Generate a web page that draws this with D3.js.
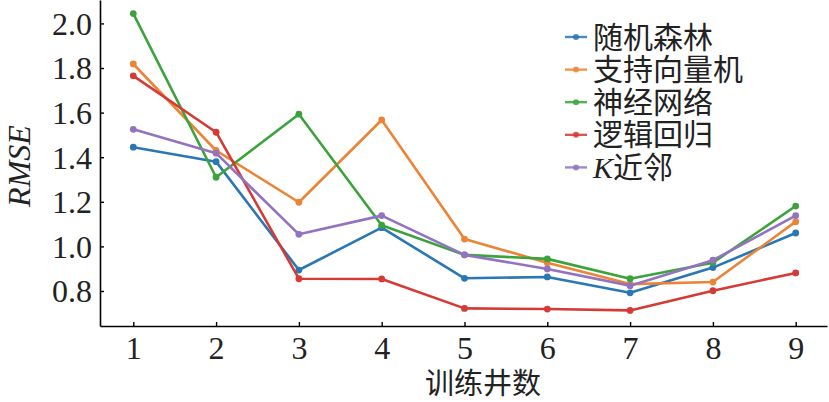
<!DOCTYPE html>
<html><head><meta charset="utf-8">
<script src="https://cdn.jsdelivr.net/npm/d3@7/dist/d3.min.js"></script>
<style>body{margin:0;background:#fff}svg{display:block}</style>
</head><body>
<script>
const wells = [1,2,3,4,5,6,7,8,9];
const seriesNames = ["随机森林","支持向量机","神经网络","逻辑回归","K近邻"];
const rf  = [1.445,1.380,0.894,1.084,0.857,0.863,0.792,0.905,1.060];
const svm = [1.818,1.430,1.198,1.567,1.033,0.927,0.831,0.840,1.111];
const nn  = [2.044,1.310,1.593,1.095,0.962,0.944,0.855,0.927,1.181];
const lr  = [1.765,1.512,0.855,0.854,0.722,0.719,0.713,0.801,0.881];
const knn = [1.525,1.418,1.054,1.138,0.962,0.899,0.824,0.938,1.138];
const yTicks = [0.8,1.0,1.2,1.4,1.6,1.8,2.0];
const colors = ["#2a77b4","#eb8535","#3ca33c","#d63a35","#9373bf"];
const allSeries = [rf,svm,nn,lr,knn];

const W=829,H=402;
const svg=d3.select("body").append("svg").attr("width",W).attr("height",H);
const x=d3.scaleLinear().domain([0.598,9.378]).range([100,827]);
const y=d3.scaleLinear().domain([0.643,2.105]).range([326,0]);

const serif='"Liberation Serif","DejaVu Serif",serif';
const cjk='"Noto Sans CJK SC",sans-serif';

// axes
const xAxis=svg.append("g").attr("transform","translate(0,326)")
  .call(d3.axisBottom(x).tickValues(wells).tickFormat(d3.format("d")).tickSizeInner(-4).tickSizeOuter(0).tickPadding(10));
const yAxis=svg.append("g").attr("transform","translate(100,0)")
  .call(d3.axisLeft(y).tickValues(yTicks).tickFormat(d3.format(".1f")).tickSizeInner(-4).tickSizeOuter(0).tickPadding(8));
[xAxis,yAxis].forEach(g=>{
  g.select(".domain").attr("stroke","#000").attr("stroke-width",1.6);
  g.selectAll(".tick line").attr("stroke","#000").attr("stroke-width",1.4);
  g.selectAll(".tick text").attr("font-family",serif).attr("font-size",32).attr("fill","#222");
});
xAxis.selectAll(".tick text").attr("dy","0.71em");
yAxis.selectAll(".tick text").attr("dy","0.34em");

// lines
const line=d3.line().x((d,i)=>x(wells[i])).y(d=>y(d));
allSeries.forEach((s,k)=>{
  svg.append("path").datum(s).attr("d",line).attr("fill","none")
    .attr("stroke",colors[k]).attr("stroke-width",2.6).attr("stroke-linejoin","round");
  svg.append("g").selectAll("circle").data(s).join("circle")
    .attr("cx",(d,i)=>x(wells[i])).attr("cy",d=>y(d)).attr("r",3.4).attr("fill",colors[k]);
});

// axis labels
svg.append("text").attr("transform","translate(30,166) rotate(-90)")
  .attr("text-anchor","middle").attr("font-family",serif).attr("font-style","italic")
  .attr("font-size",32).attr("fill","#222").text("RMSE");
svg.append("text").attr("x",483).attr("y",394).attr("text-anchor","middle")
  .attr("font-family",cjk).attr("font-size",29).attr("fill","#222").text("训练井数");

// legend
const lg=svg.append("g");
seriesNames.forEach((n,k)=>{
  const yy=37+k*32.6;
  lg.append("line").attr("x1",565).attr("x2",587).attr("y1",yy).attr("y2",yy)
    .attr("stroke",colors[k]).attr("stroke-width",2.4).attr("opacity",0.85);
  lg.append("circle").attr("cx",576).attr("cy",yy).attr("r",3).attr("fill",colors[k]).attr("opacity",0.85);
  const t=lg.append("text").attr("x",593).attr("y",yy+10.5).attr("font-family",cjk)
    .attr("font-size",30).attr("fill","#222");
  if(n.startsWith("K")){
    t.append("tspan").attr("font-family",serif).attr("font-style","italic").text("K");
    t.append("tspan").text(n.slice(1));
  } else t.text(n);
});
</script>
</body></html>
